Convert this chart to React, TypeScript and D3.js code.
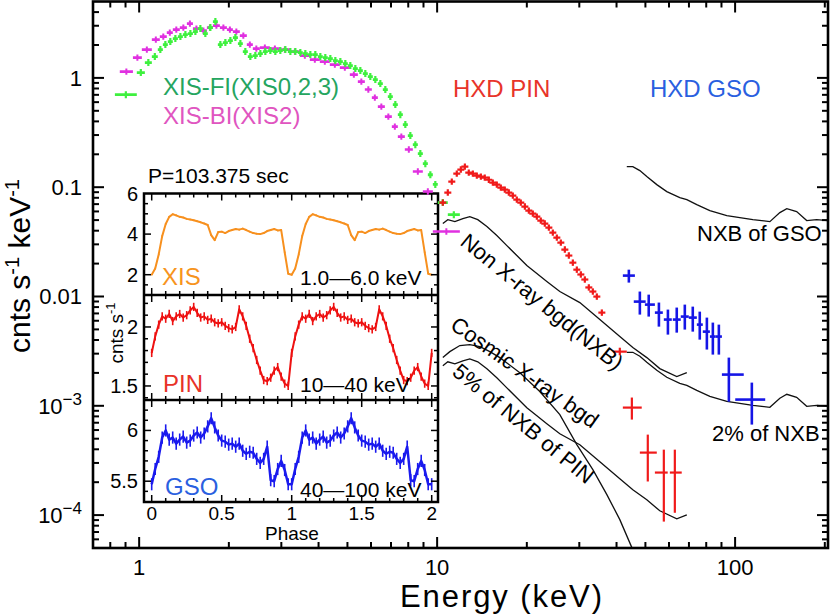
import React from "react";
import * as d3 from "d3";

// ===== Main spectrum data (energy keV, counts s^-1 keV^-1) =====
const xisFiEdges = [0.829, 0.982, 1.045, 1.103, 1.155, 1.201, 1.248, 1.297, 1.349, 1.402, 1.457, 1.515, 1.574, 1.636, 1.7, 1.768, 1.837, 1.909, 1.985, 2.063, 2.145, 2.228, 2.316, 2.407, 2.502, 2.601, 2.703, 2.81, 2.92, 3.035, 3.155, 3.28, 3.408, 3.542, 3.683, 3.826, 3.978, 4.134, 4.297, 4.467, 4.643, 4.826, 5.015, 5.213, 5.419, 5.632, 5.853, 6.084, 6.324, 6.573, 6.832, 7.101, 7.381, 7.672, 7.974, 8.288, 8.614, 8.954, 9.307, 9.674, 10.05, 10.86, 11.92];
const xisFiFlux = [0.703, 1.118, 1.38, 1.566, 1.815, 2.017, 2.148, 2.289, 2.387, 2.49, 2.543, 2.652, 2.826, 2.543, 2.886, 3.274, 2.017, 2.104, 2.194, 2.338, 2.06, 1.74, 1.566, 1.6, 1.668, 1.74, 1.777, 1.74, 1.777, 1.815, 1.74, 1.74, 1.704, 1.668, 1.634, 1.634, 1.566, 1.534, 1.502, 1.44, 1.41, 1.351, 1.296, 1.216, 1.166, 1.095, 1.028, 0.965, 0.887, 0.782, 0.674, 0.57, 0.461, 0.374, 0.297, 0.245, 0.203, 0.164, 0.13, 0.106, 0.0723, 0.0561];

const xisBiEdges = [0.861, 0.953, 1.021, 1.103, 1.173, 1.238, 1.297, 1.369, 1.446, 1.515, 1.599, 1.688, 1.768, 1.866, 1.97, 2.063, 2.177, 2.298, 2.407, 2.541, 2.746, 2.966, 3.204, 3.462, 3.739, 4.04, 4.364, 4.715, 5.094, 5.419, 5.72, 6.038, 6.324, 6.676, 7.047, 7.381, 7.791, 8.288, 8.954, 9.674, 11.92];
const xisBiFlux = [1.142, 1.534, 1.815, 2.241, 2.387, 2.597, 2.766, 2.886, 3.14, 2.826, 2.708, 2.886, 3.009, 2.886, 2.766, 2.652, 2.438, 2.017, 1.854, 1.894, 1.854, 1.815, 1.74, 1.6, 1.47, 1.41, 1.323, 1.242, 1.072, 0.925, 0.782, 0.66, 0.546, 0.442, 0.358, 0.29, 0.221, 0.139, 0.0912, 0.0393];

const pinE = [10.45, 10.86, 11.2, 11.64, 12.01, 12.39, 12.77, 13.18, 13.59, 14.02, 14.45, 14.91, 15.38, 15.86, 16.36, 16.87, 17.4, 17.95, 18.51, 19.09, 19.7, 20.31, 20.95, 21.61, 22.28, 22.98, 23.71, 24.45, 25.22, 26.01, 26.83, 27.67, 28.54, 29.43, 30.36, 31.31, 32.29, 33.31, 34.35, 35.71];
const pinF = [0.0723, 0.0893, 0.1125, 0.1332, 0.145, 0.1543, 0.136, 0.1332, 0.1277, 0.125, 0.1224, 0.117, 0.11, 0.1056, 0.0992, 0.0951, 0.0893, 0.0838, 0.077, 0.0723, 0.0665, 0.0611, 0.0573, 0.0538, 0.0495, 0.0465, 0.0427, 0.0384, 0.0346, 0.0311, 0.0269, 0.0237, 0.0204, 0.0176, 0.0159, 0.0143, 0.0121, 0.0111, 0.00998, 0.00712];

const pinTailE = [41.03, 45.03, 50.93, 57.65, 62.77];
const pinTailELo = [38.9, 42.0, 47.9, 53.8, 60.4];
const pinTailEHi = [43.3, 48.6, 54.6, 59.4, 66.2];
const pinTailF = [0.00313, 0.000963, 0.000373, 0.000245, 0.000245];
const pinTailFLo = [0.0029, 0.000748, 0.000203, 0.0000872, 0.000105];
const pinTailFHi = [0.0034, 0.00119, 0.000545, 0.000397, 0.000397];

const gsoE = [44.0, 47.9, 51.3, 55.5, 59.5, 63.7, 67.8, 72.1, 76.1, 80.4, 84.2, 88.2, 95.3, 113.8];
const gsoELo = [42.0, 45.7, 49.8, 53.8, 57.65, 61.8, 65.7, 69.9, 74.4, 77.9, 82.3, 86.1, 90.3, 100.1];
const gsoEHi = [46.1, 50.1, 53.8, 57.2, 61.3, 65.7, 69.9, 74.4, 77.9, 82.3, 86.1, 90.3, 106.9, 126.2];
const gsoF = [0.01553, 0.00898, 0.00843, 0.00712, 0.00615, 0.00615, 0.00655, 0.00641, 0.00553, 0.00477, 0.0043, 0.0043, 0.00193, 0.00114];
const gsoFLo = [0.0134, 0.00683, 0.00655, 0.0053, 0.00448, 0.00467, 0.00498, 0.00477, 0.00403, 0.00327, 0.00294, 0.00294, 0.00109, 0.000673];
const gsoFHi = [0.0176, 0.0111, 0.0104, 0.0088, 0.00759, 0.00792, 0.00843, 0.00808, 0.00727, 0.00641, 0.00577, 0.00553, 0.00276, 0.00163];

// Background models
const nxbPinE = [10.45, 10.86, 11.47, 12.2, 12.87, 13.69, 14.69, 15.86, 17.14, 18.51, 20.0, 21.61, 23.34, 25.81, 30.12, 35.16, 41.03, 45.37, 50.54, 55.88, 63.72, 68.85];
const nxbPinF = [0.0465, 0.0505, 0.0484, 0.0516, 0.0538, 0.0505, 0.0436, 0.0361, 0.0292, 0.0237, 0.0192, 0.0162, 0.0137, 0.0111, 0.0088, 0.00615, 0.0043, 0.00341, 0.00276, 0.00219, 0.00185, 0.00201];
const nxbGsoE = [43.3, 45.37, 47.9, 50.54, 54.6, 58.98, 65.22, 68.85, 74.36, 82.27, 93.78, 103.7, 114.7, 130.8, 141.3, 149.1, 160.9, 173.9, 187.8, 204.5];
const nxbGsoF = [0.1543, 0.1543, 0.1419, 0.125, 0.1056, 0.0912, 0.0803, 0.077, 0.0693, 0.0611, 0.055, 0.0527, 0.0505, 0.0484, 0.0586, 0.0637, 0.0598, 0.0495, 0.0505, 0.0495];
const cxbE = [10.45, 11.03, 11.92, 12.87, 13.91, 15.03, 16.23, 18.95, 22.11, 25.81, 29.43, 33.31, 37.12, 41.03, 45.03, 47.9];
const cxbF = [0.00276, 0.00313, 0.00356, 0.00363, 0.00348, 0.00313, 0.00276, 0.00201, 0.00135, 0.000831, 0.000442, 0.000261, 0.000154, 0.0000909, 0.0000504, 0.000038];
const pinNxbFraction = 0.05;
const gsoNxbFraction = 0.02;

// Main axis labels
const xTickValues = [1, 10, 100];
const xTickText = ["1", "10", "100"];
const yTickValues = [1, 0.1, 0.01, 0.001, 0.0001];
const yTickBase = ["1", "0.1", "0.01", "10", "10"];
const yTickExp = ["", "", "", "\u22123", "\u22124"];

// ===== Inset pulse profiles (one cycle, shown twice) =====
const phaseBins = [0, 0.025, 0.05, 0.075, 0.1, 0.125, 0.15, 0.175, 0.2, 0.225, 0.25, 0.275, 0.3, 0.325, 0.35, 0.375, 0.4, 0.425, 0.45, 0.475, 0.5, 0.525, 0.55, 0.575, 0.6, 0.625, 0.65, 0.675, 0.7, 0.725, 0.75, 0.775, 0.8, 0.825, 0.85, 0.875, 0.9, 0.925, 0.95, 0.975];
const xisRate = [2.0, 2.3, 3.0, 3.9, 4.5, 4.85, 4.98, 4.92, 4.85, 4.82, 4.75, 4.72, 4.68, 4.63, 4.58, 4.52, 4.45, 3.95, 3.7, 4.1, 4.12, 4.05, 4.15, 4.2, 4.25, 4.22, 4.27, 4.2, 4.12, 4.05, 4.02, 4.0, 4.05, 4.15, 4.2, 4.25, 4.18, 4.2, 3.1, 2.05];
const pinRate = [1.78, 1.92, 2.02, 2.09, 2.07, 2.11, 2.05, 2.09, 2.11, 2.08, 2.1, 2.14, 2.17, 2.12, 2.08, 2.09, 2.06, 2.07, 2.04, 2.03, 2.04, 2.01, 1.99, 1.98, 2.0, 2.15, 2.09, 2.01, 1.9, 1.82, 1.72, 1.63, 1.55, 1.54, 1.57, 1.63, 1.66, 1.58, 1.52, 1.5];
const gsoRate = [5.47, 5.62, 5.74, 5.93, 6.0, 5.91, 5.93, 5.87, 5.91, 5.94, 5.88, 5.9, 5.95, 5.98, 5.93, 5.97, 6.04, 6.12, 6.03, 5.95, 5.9, 5.89, 5.86, 5.87, 5.84, 5.87, 5.8, 5.77, 5.79, 5.78, 5.72, 5.68, 5.72, 5.84, 5.51, 5.5, 5.62, 5.7, 5.61, 5.47];
const xisRateErr = 0.04;
const pinRateErr = 0.035;
const gsoRateErr = 0.06;
const phaseTickValues = [0, 0.5, 1, 1.5, 2];
const phaseTickText = ["0", "0.5", "1", "1.5", "2"];
const xisTickValues = [2, 4, 6];
const pinTickValues = [1.5, 2];
const pinTickText = ["1.5", "2"];
const gsoTickValues = [5.5, 6];
const gsoTickText = ["5.5", "6"];

const FONT = "'Liberation Sans', Arial, Helvetica, sans-serif";
const C_FI = "#3ef03e";
const C_BI = "#e030e0";
const C_PIN = "#f01a1a";
const C_GSO = "#1515e6";
const C_XIS_LC = "#f7901e";

type P = [number, number];

export default function App() {
  const L = 93, R = 828, T = 1.5, B = 548;
  const x = d3.scaleLog().domain([0.7, 205]).range([L, R]);
  const y = d3.scaleLog().domain([5e-5, 5]).range([B, T]);
  const line = d3.line<P>().x((d) => x(d[0])).y((d) => y(d[1]));
  const zip = (a: number[], b: number[], f = 1): P[] => a.map((v, i) => [v, b[i] * f]);
  const isDecade = (v: number) => Math.abs(Math.log10(v) - Math.round(Math.log10(v))) < 1e-9;

  // inset scales
  const IL = 144, IR = 438;
  const panels = [
    { top: 193.5, bottom: 295 },
    { top: 295, bottom: 400 },
    { top: 400, bottom: 502 },
  ];
  const xp = d3.scaleLinear().domain([-0.055, 2.045]).range([IL, IR]);
  const yXis = d3.scaleLinear().domain([1.0, 6.0]).range([295, 193.5]);
  const yPin = d3.scaleLinear().domain([1.381, 2.271]).range([400, 295]);
  const yGso = d3.scaleLinear().domain([5.295, 6.3]).range([502, 400]);

  const twoCycles = (rate: number[]): P[] => [
    ...phaseBins.map((p, i) => [p, rate[i]] as P),
    ...phaseBins.map((p, i) => [p + 1, rate[i]] as P),
    [2, rate[0]] as P,
  ];

  const mainTicksX = x.ticks().filter((v) => x(v) > L + 2 && x(v) < R - 1);
  const mainTicksY = y.ticks().filter((v) => y(v) > T + 2 && y(v) < B - 2);

  const insetLine = (sy: d3.ScaleLinear<number, number>) =>
    d3.line<P>().x((d) => xp(d[0])).y((d) => sy(d[1]));

  const phaseMinor = xp.ticks(20).filter((v) => v >= 0 && v <= 2);

  const renderPanel = (
    sy: d3.ScaleLinear<number, number>,
    rate: number[],
    err: number,
    color: string,
    width: number,
    majors: number[],
    pi: number
  ) => {
    const pts = twoCycles(rate);
    const { top, bottom } = panels[pi];
    const yt = sy.ticks(10).filter((v) => sy(v) > top + 1 && sy(v) < bottom - 1);
    const isMaj = (v: number) => majors.some((m) => Math.abs(m - v) < 1e-6);
    return (
      <g key={"panel" + pi}>
        {pts.map((d, i) => (
          <line key={"e" + i} x1={xp(d[0])} x2={xp(d[0])} y1={sy(d[1] - err)} y2={sy(d[1] + err)} stroke={color} strokeWidth={1.6} />
        ))}
        <path d={insetLine(sy)(pts) || ""} fill="none" stroke={color} strokeWidth={width} strokeLinejoin="round" />
        {yt.map((v, i) => {
          const len = isMaj(v) ? 7 : 4;
          return (
            <g key={"yt" + i}>
              <line x1={IL} x2={IL + len} y1={sy(v)} y2={sy(v)} stroke="#000" strokeWidth={1.5} />
              <line x1={IR} x2={IR - len} y1={sy(v)} y2={sy(v)} stroke="#000" strokeWidth={1.5} />
            </g>
          );
        })}
        {phaseMinor.map((v, i) => {
          const maj = Math.abs(v * 2 - Math.round(v * 2)) < 1e-6;
          const len = maj ? 7 : 4;
          return (
            <g key={"xt" + i}>
              <line x1={xp(v)} x2={xp(v)} y1={top} y2={top + len} stroke="#000" strokeWidth={1.5} />
              <line x1={xp(v)} x2={xp(v)} y1={bottom} y2={bottom - len} stroke="#000" strokeWidth={1.5} />
            </g>
          );
        })}
      </g>
    );
  };

  const textBase = { fontFamily: FONT } as React.CSSProperties;

  return (
    <svg width={830} height={616} viewBox="0 0 830 616" style={{ position: "absolute", left: 0, top: 0, background: "#fff" }}>
      <defs>
        <clipPath id="plotClip">
          <rect x={L} y={T} width={R - L} height={B - T} />
        </clipPath>
      </defs>
      <rect x={0} y={0} width={830} height={616} fill="#fff" />

      {/* background model curves */}
      <g clipPath="url(#plotClip)" fill="none" stroke="#111" strokeWidth={1.3}>
        <path d={line(zip(nxbPinE, nxbPinF)) || ""} />
        <path d={line(zip(nxbPinE, nxbPinF, pinNxbFraction)) || ""} />
        <path d={line(zip(cxbE, cxbF)) || ""} />
        <path d={line(zip(nxbGsoE, nxbGsoF)) || ""} />
        <path d={line(zip(nxbGsoE, nxbGsoF, gsoNxbFraction)) || ""} />
      </g>

      {/* inset */}
      <g>
        <rect x={IL} y={panels[0].top} width={IR - IL} height={panels[2].bottom - panels[0].top} fill="#fff" />
        {renderPanel(yXis, xisRate, xisRateErr, C_XIS_LC, 2, xisTickValues, 0)}
        {renderPanel(yPin, pinRate, pinRateErr, "#ee1111", 2, pinTickValues, 1)}
        {renderPanel(yGso, gsoRate, gsoRateErr, "#1a1aee", 2.5, gsoTickValues, 2)}
        <rect x={IL} y={panels[0].top} width={IR - IL} height={panels[2].bottom - panels[0].top} fill="none" stroke="#000" strokeWidth={2.5} />
        <line x1={IL} x2={IR} y1={295} y2={295} stroke="#000" strokeWidth={2.5} />
        <line x1={IL} x2={IR} y1={400} y2={400} stroke="#000" strokeWidth={2.5} />

        <g style={textBase} fontSize={20} textAnchor="end" fill="#000">
          {xisTickValues.map((v, i) => (
            <text key={"xl" + i} x={138} y={yXis(v) + 7}>{String(v)}</text>
          ))}
          {pinTickValues.map((v, i) => (
            <text key={"pl" + i} x={138} y={yPin(v) + 7}>{pinTickText[i]}</text>
          ))}
          {gsoTickValues.map((v, i) => (
            <text key={"gl" + i} x={138} y={yGso(v) + 7}>{gsoTickText[i]}</text>
          ))}
        </g>
        <g style={textBase} fontSize={19} textAnchor="middle" fill="#000">
          {phaseTickValues.map((v, i) => (
            <text key={"ph" + i} x={xp(v)} y={520}>{phaseTickText[i]}</text>
          ))}
          <text x={292} y={540}>Phase</text>
        </g>
        <text style={textBase} fontSize={19} textAnchor="middle" transform="translate(123,333) rotate(-90)">
          cnts s<tspan dy={-8} fontSize={13}>-1</tspan>
        </text>
        <text style={textBase} fontSize={21} x={148} y={183}>P=103.375 sec</text>
        <text style={textBase} fontSize={24} x={162} y={285} fill="#f7941d">XIS</text>
        <text style={textBase} fontSize={24} x={163} y={392} fill="#e83228">PIN</text>
        <text style={textBase} fontSize={24} x={165} y={495} fill="#2a5fe0">GSO</text>
        <text style={textBase} fontSize={21} x={300} y={285}>1.0—6.0 keV</text>
        <text style={textBase} fontSize={21} x={300} y={392}>10—40 keV</text>
        <text style={textBase} fontSize={21} x={300} y={497}>40—100 keV</text>
      </g>

      {/* spectra */}
      <g clipPath="url(#plotClip)">
        {xisBiFlux.map((f, i) => {
          const x0 = x(xisBiEdges[i]), x1 = x(xisBiEdges[i + 1]);
          const xc = (x0 + x1) / 2, yc = y(f);
          return (
            <g key={"bi" + i} stroke={C_BI}>
              <line x1={x0} x2={x1} y1={yc} y2={yc} strokeWidth={2.6} />
              <line x1={xc} x2={xc} y1={yc - 3.2} y2={yc + 3.2} strokeWidth={2} />
            </g>
          );
        })}
        {xisFiFlux.map((f, i) => {
          const x0 = x(xisFiEdges[i]), x1 = x(xisFiEdges[i + 1]);
          const xc = (x0 + x1) / 2, yc = y(f);
          return (
            <g key={"fi" + i} stroke={C_FI}>
              <line x1={x0} x2={x1} y1={yc} y2={yc} strokeWidth={2.8} />
              <line x1={xc} x2={xc} y1={yc - 3.5} y2={yc + 3.5} strokeWidth={2.2} />
            </g>
          );
        })}
        {pinE.map((e, i) => {
          const xc = x(e), yc = y(pinF[i]);
          return (
            <g key={"pin" + i} stroke={C_PIN} strokeWidth={2.2}>
              <line x1={xc - 3.5} x2={xc + 3.5} y1={yc} y2={yc} />
              <line x1={xc} x2={xc} y1={yc - 3.2} y2={yc + 3.2} />
            </g>
          );
        })}
        {pinTailE.map((e, i) => (
          <g key={"pt" + i} stroke={C_PIN} strokeWidth={2.2}>
            <line x1={x(pinTailELo[i])} x2={x(pinTailEHi[i])} y1={y(pinTailF[i])} y2={y(pinTailF[i])} />
            <line x1={x(e)} x2={x(e)} y1={y(pinTailFLo[i])} y2={y(pinTailFHi[i])} />
          </g>
        ))}
        {gsoE.map((e, i) => (
          <g key={"gso" + i} stroke={C_GSO} strokeWidth={2.6}>
            <line x1={x(gsoELo[i])} x2={x(gsoEHi[i])} y1={y(gsoF[i])} y2={y(gsoF[i])} />
            <line x1={x(e)} x2={x(e)} y1={y(gsoFLo[i])} y2={y(gsoFHi[i])} />
          </g>
        ))}
      </g>

      {/* main frame and ticks */}
      <g stroke="#000" strokeWidth={2}>
        {mainTicksX.map((v, i) => {
          const len = isDecade(v) ? 11 : 6;
          return (
            <g key={"mx" + i}>
              <line x1={x(v)} x2={x(v)} y1={B} y2={B - len} />
              <line x1={x(v)} x2={x(v)} y1={T} y2={T + len} />
            </g>
          );
        })}
        {mainTicksY.map((v, i) => {
          const len = isDecade(v) ? 11 : 6;
          return (
            <g key={"my" + i}>
              <line x1={L} x2={L + len} y1={y(v)} y2={y(v)} />
              <line x1={R} x2={R - len} y1={y(v)} y2={y(v)} />
            </g>
          );
        })}
      </g>
      <rect x={L} y={T} width={R - L} height={B - T} fill="none" stroke="#000" strokeWidth={2.6} />

      {/* main tick labels */}
      <g style={textBase} fontSize={22} fill="#000">
        {xTickValues.map((v, i) => (
          <text key={"xtl" + i} x={x(v)} y={575} textAnchor="middle">{xTickText[i]}</text>
        ))}
        {yTickValues.map((v, i) => (
          <text key={"ytl" + i} x={82} y={y(v) + 8} textAnchor="end">
            {yTickBase[i]}
            {yTickExp[i] ? <tspan dy={-9} fontSize={17}>{yTickExp[i]}</tspan> : null}
          </text>
        ))}
      </g>

      {/* axis titles */}
      <text style={textBase} fontSize={31} x={400} y={607} textLength={202} lengthAdjust="spacing">Energy  (keV)</text>
      <text style={textBase} fontSize={30} textAnchor="middle" transform="translate(30,266) rotate(-90)">
        cnts s<tspan dy={-11} fontSize={20}>-1</tspan><tspan dy={11}> keV</tspan><tspan dy={-11} fontSize={20}>-1</tspan>
      </text>

      {/* annotations */}
      <g style={textBase}>
        <text x={163} y={95} fontSize={24} fill="#25a55f">XIS-FI(XIS0,2,3)</text>
        <text x={163} y={124} fontSize={24} fill="#e055c0">XIS-BI(XIS2)</text>
        <text x={453} y={97} fontSize={24} fill="#e8342a">HXD PIN</text>
        <text x={650} y={97} fontSize={24} fill="#2a5fe0">HXD GSO</text>
        <text x={697} y={241} fontSize={22} fill="#000">NXB of GSO</text>
        <text x={712} y={441} fontSize={22} fill="#000">2% of NXB</text>
        <text fontSize={22} fill="#000" transform="translate(459,244) rotate(39.2)">Non X-ray bgd(NXB)</text>
        <text fontSize={22} fill="#000" transform="translate(449,328) rotate(35.3)">Cosmic X-ray bgd</text>
        <text fontSize={22} fill="#000" transform="translate(451,374) rotate(39.3)">5% of NXB of PIN</text>
      </g>
    </svg>
  );
}
